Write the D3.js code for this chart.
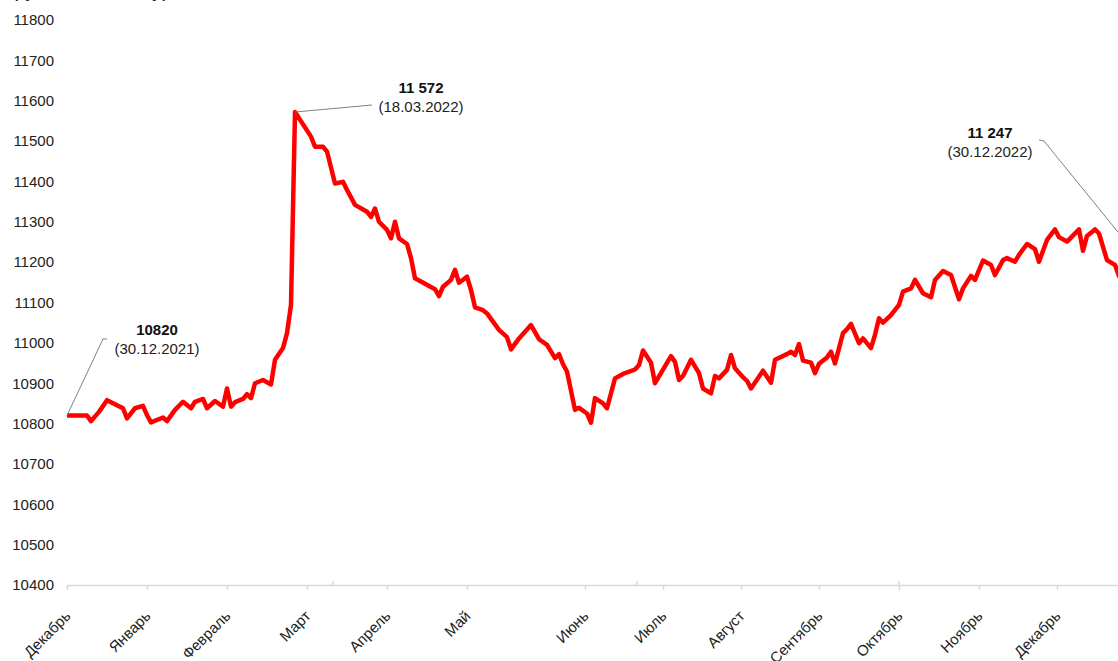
<!DOCTYPE html>
<html>
<head>
<meta charset="utf-8">
<script src="https://cdn.jsdelivr.net/npm/d3@7"></script>
<style>
  body { margin: 0; background: #fff; }
  svg { display: block; font-family: "Liberation Sans", Arial, sans-serif; }
</style>
</head>
<body>
<div class="chart"></div>
<script>
// trading day number (from 30.12.2021) and index value
let days = [0, 5, 6, 8, 10, 12, 14, 15, 17, 19, 20, 21, 24, 25, 27, 29, 31, 32, 34, 35,
  37, 39, 40, 41, 42, 44, 45, 46, 47, 49, 51, 52, 54, 55, 56, 57, 61, 62, 64, 65,
  67, 69, 70, 72, 75, 76, 77, 78, 80, 81, 82, 83, 85, 86, 87, 92, 93, 94, 96, 97,
  98, 100, 101, 102, 104, 105, 108, 110, 111, 113, 116, 118, 120, 122, 123, 124, 125, 127, 128, 130,
  131, 132, 134, 135, 137, 139, 142, 143, 144, 146, 147, 151, 152, 153, 154, 156, 158, 159, 161, 162,
  163, 165, 166, 167, 169, 170, 171, 174, 176, 177, 180, 181, 182, 183, 184, 186, 187, 188, 190, 191,
  192, 194, 195, 196, 198, 199, 201, 202, 203, 204, 206, 208, 209, 211, 212, 214, 216, 217, 219, 221,
  223, 224, 226, 227, 229, 231, 232, 234, 235, 237, 238, 240, 242, 243, 245, 247, 248, 250, 253, 254,
  255, 257, 258, 260, 262, 263, 265];
let values = [10820, 10820, 10806, 10829, 10858, 10848, 10838, 10813, 10838, 10844, 10821, 10803, 10815, 10806, 10834, 10854, 10838, 10854, 10861, 10838,
  10856, 10842, 10887, 10842, 10853, 10861, 10873, 10863, 10900, 10908, 10897, 10958, 10987, 11024, 11094, 11572, 11511, 11486, 11486, 11474,
  11395, 11399, 11379, 11342, 11325, 11312, 11333, 11300, 11280, 11259, 11300, 11259, 11245, 11210, 11160, 11133, 11116, 11139, 11156, 11181,
  11149, 11164, 11131, 11088, 11081, 11073, 11032, 11014, 10984, 11011, 11044, 11009, 10995, 10962, 10972, 10947, 10929, 10834, 10839, 10825,
  10802, 10863, 10850, 10838, 10912, 10923, 10934, 10945, 10981, 10951, 10900, 10967, 10953, 10908, 10918, 10958, 10925, 10887, 10875, 10918,
  10912, 10933, 10970, 10937, 10915, 10906, 10887, 10931, 10901, 10958, 10972, 10978, 10970, 10997, 10956, 10951, 10925, 10948, 10964, 10978,
  10949, 11024, 11034, 11047, 10999, 11011, 10987, 11020, 11061, 11050, 11069, 11094, 11127, 11135, 11156, 11123, 11113, 11156, 11178, 11168,
  11108, 11135, 11166, 11156, 11204, 11193, 11168, 11205, 11210, 11201, 11218, 11245, 11232, 11201, 11255, 11281, 11262, 11251, 11281, 11228,
  11265, 11281, 11271, 11205, 11193, 11166, 11247];

let monthLabels = ['Декабрь', 'Январь', 'Февраль', 'Март', 'Апрель', 'Май', 'Июнь',
  'Июль', 'Август', 'Сентябрь', 'Октябрь', 'Ноябрь', 'Декабрь'];
let monthDays = [0, 20, 40, 60, 80, 100, 129.5, 149, 168.5, 188, 208, 228, 247.5];
let extraTickDays = [66.5, 142.5, 208];
let yTicks = d3.range(10400, 11801, 100);

let noteValues = ['10820', '11 572', '11 247'];
let noteDates = ['(30.12.2021)', '(18.03.2022)', '(30.12.2022)'];
let noteDays = [0, 57, 265];

let width = 1118;
let height = 661;

let svg = d3.select('.chart')
  .append('svg')
  .attr('width', width)
  .attr('height', height);

let xScale = d3.scaleLinear().domain([0, 265]).range([67, 1127]);
let yScale = d3.scaleLinear().domain([10400, 11800]).range([585, 20]);

// heading, cut off by the top edge like in the source picture
svg.append('text')
  .attr('x', 169)
  .attr('y', -3)
  .attr('text-anchor', 'end')
  .style('font-size', '20px')
  .style('fill', '#111')
  .text('(в рублях за тонну)');

let yAxis = d3.axisLeft(yScale)
  .tickValues(yTicks)
  .tickFormat(d3.format('d'))
  .tickSize(0)
  .tickPadding(13);
let gy = svg.append('g')
  .attr('transform', 'translate(67,0)')
  .call(yAxis);
gy.select('.domain').remove();
gy.selectAll('text')
  .style('font-size', '15px')
  .style('font-family', '"Liberation Sans", Arial, sans-serif')
  .style('fill', '#222');

let xAxis = d3.axisBottom(xScale)
  .tickValues(monthDays)
  .tickFormat((d, i) => monthLabels[i])
  .tickSize(5)
  .tickSizeOuter(0);
let gx = svg.append('g')
  .attr('transform', 'translate(0,585)')
  .call(xAxis);
gx.select('.domain').attr('stroke', '#d9d9d9').attr('stroke-width', 1.5);
gx.selectAll('.tick line').attr('stroke', '#d9d9d9').attr('stroke-width', 1.5);
gx.selectAll('text')
  .attr('x', 0)
  .attr('y', 0)
  .attr('dy', 0)
  .attr('transform', 'translate(4,32) rotate(-45)')
  .style('text-anchor', 'end')
  .style('font-size', '15px')
  .style('font-family', '"Liberation Sans", Arial, sans-serif')
  .style('fill', '#222');

gx.selectAll('.extra')
  .data(extraTickDays)
  .enter()
  .append('line')
  .attr('x1', d => xScale(d))
  .attr('x2', d => xScale(d))
  .attr('y1', -4)
  .attr('y2', 0)
  .attr('stroke', '#d9d9d9')
  .attr('stroke-width', 1.5);

let series = days.map((d, i) => ({ day: d, value: values[i] }));
let line = d3.line()
  .x(d => xScale(d.day))
  .y(d => yScale(d.value));

svg.append('path')
  .datum(series)
  .attr('fill', 'none')
  .attr('stroke', '#ff0000')
  .attr('stroke-width', 4.5)
  .attr('stroke-linejoin', 'round')
  .attr('d', line);

// annotations: label centre and leader path
let notePos = [[157, 335], [421, 93], [990, 138]];
let noteLeader = [
  (px, py) => [[px, py], [103, 339], [107, 339]],
  (px, py) => [[px, py], [372, 105]],
  (px, py) => [[px, py], [1044, 141], [1039, 140]]
];
noteValues.forEach((v, i) => {
  let px = xScale(noteDays[i]);
  let py = yScale(+v.replace(' ', ''));
  svg.append('path')
    .attr('d', d3.line()(noteLeader[i](px, py)))
    .attr('fill', 'none')
    .attr('stroke', '#808080')
    .attr('stroke-width', 1);
  svg.append('text')
    .attr('x', notePos[i][0])
    .attr('y', notePos[i][1])
    .attr('text-anchor', 'middle')
    .style('font-size', '15px')
    .style('font-weight', 'bold')
    .style('fill', '#111')
    .text(v);
  svg.append('text')
    .attr('x', notePos[i][0])
    .attr('y', notePos[i][1] + 19)
    .attr('text-anchor', 'middle')
    .style('font-size', '15px')
    .style('fill', '#222')
    .text(noteDates[i]);
});
</script>
</body>
</html>
